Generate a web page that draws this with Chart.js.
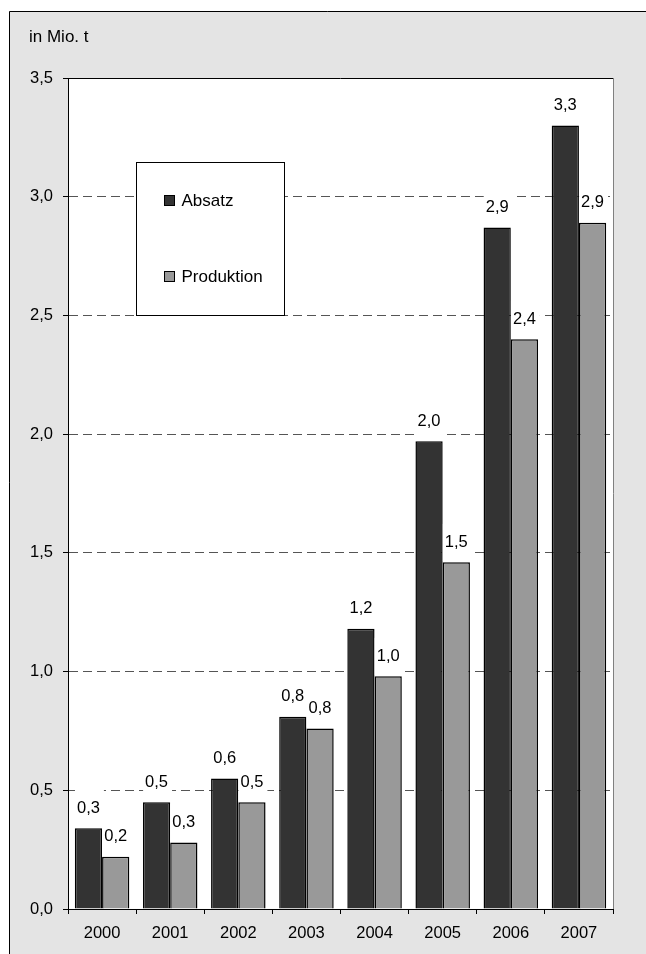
<!DOCTYPE html>
<html>
<head>
<meta charset="utf-8">
<title>Absatz und Produktion 2000–2007</title>
<style>
  html, body { margin: 0; padding: 0; background: #ffffff; }
  #wrap { width: 646px; height: 954px; position: relative; }
  canvas { display: block; }
</style>
<script src="https://cdn.jsdelivr.net/npm/chart.js@4/dist/chart.umd.min.js"></script>
</head>
<body>
<div id="wrap"><canvas id="chart" width="646" height="954"></canvas></div>
<script>
// Jahre (Kategorien)
const years = ['2000', '2001', '2002', '2003', '2004', '2005', '2006', '2007'];
// Absatz in Mio. t
const absatz = [0.34, 0.45, 0.55, 0.81, 1.18, 1.97, 2.87, 3.30];
// Produktion in Mio. t
const produktion = [0.22, 0.28, 0.45, 0.76, 0.98, 1.46, 2.40, 2.89];
// Beschriftungen
const seriesNames = ['Absatz', 'Produktion'];
const yTicks = [0, 0.5, 1.0, 1.5, 2.0, 2.5, 3.0, 3.5];
const unitLabel = 'in Mio. t';

const FONT = '"Liberation Sans", Arial, Helvetica, sans-serif';
const DARK = '#333333';
const LIGHT = '#999999';

// deutsches Zahlenformat mit einer Nachkommastelle
const fmt = v => (Math.round(v * 10) / 10).toFixed(1).replace('.', ',');

// Hintergrund: grauer Rahmen, weiße Zeichenfläche, Einheit oben links
const framePlugin = {
  id: 'frame',
  beforeDraw(chart) {
    const { ctx, width, height, chartArea: ca } = chart;
    ctx.save();
    ctx.fillStyle = '#e4e4e4';
    ctx.fillRect(9, 11, width - 9, height - 11);
    ctx.strokeStyle = '#000';
    ctx.lineWidth = 1;
    ctx.beginPath();
    ctx.moveTo(9.5, height);
    ctx.lineTo(9.5, 11.5);
    ctx.lineTo(width, 11.5);
    ctx.stroke();
    ctx.fillStyle = '#ffffff';
    ctx.fillRect(ca.left, ca.top, ca.right - ca.left, ca.bottom - ca.top);
    ctx.fillStyle = '#000';
    ctx.font = '17px ' + FONT;
    ctx.textAlign = 'left';
    ctx.textBaseline = 'alphabetic';
    ctx.fillText(unitLabel, 29, 41.5);
    ctx.restore();
  },
  beforeDatasetsDraw(chart) {
    const { ctx, chartArea: ca } = chart;
    ctx.save();
    ctx.lineWidth = 1;
    ctx.strokeStyle = '#000';
    ctx.beginPath();
    ctx.moveTo(ca.left, Math.round(ca.top) + 0.5);
    ctx.lineTo(ca.right, Math.round(ca.top) + 0.5);
    ctx.stroke();
    ctx.strokeStyle = '#808080';
    ctx.beginPath();
    ctx.moveTo(Math.round(ca.right) + 0.5, ca.top);
    ctx.lineTo(Math.round(ca.right) + 0.5, ca.bottom);
    ctx.stroke();
    ctx.restore();
  }
};

// Wertebeschriftung über den Säulen mit weißem Hintergrund
const valueLabelPlugin = {
  id: 'valueLabels',
  afterDatasetsDraw(chart) {
    const { ctx } = chart;
    ctx.save();
    ctx.font = '16.5px ' + FONT;
    ctx.textAlign = 'center';
    ctx.textBaseline = 'alphabetic';
    chart.data.datasets.forEach((ds, di) => {
      const meta = chart.getDatasetMeta(di);
      meta.data.forEach((bar, i) => {
        const txt = fmt(ds.data[i]);
        const tw = ctx.measureText(txt).width;
        const bw = tw + 6;
        ctx.fillStyle = '#ffffff';
        ctx.fillRect(bar.x - bw / 2 + 1, bar.y - 38.5, bw, 37.5);
        ctx.fillStyle = '#000';
        ctx.fillText(txt, bar.x, bar.y - 15.5);
      });
    });
    ctx.restore();
  }
};

// Legende als Kasten innerhalb der Zeichenfläche
const legendBoxPlugin = {
  id: 'legendBox',
  afterDatasetsDraw(chart) {
    const { ctx } = chart;
    const xs = chart.scales.x, ys = chart.scales.y;
    const left = Math.round((xs.getPixelForValue(0) + xs.getPixelForValue(1)) / 2) + 0.5;
    const bottom = Math.round(ys.getPixelForValue(2.5)) + 0.5;
    const w = 148, h = 153;
    const top = bottom - h;
    ctx.save();
    ctx.fillStyle = '#ffffff';
    ctx.fillRect(left, top, w, h);
    ctx.strokeStyle = '#000';
    ctx.lineWidth = 1;
    ctx.strokeRect(left, top, w, h);
    ctx.font = '17px ' + FONT;
    ctx.textAlign = 'left';
    ctx.textBaseline = 'alphabetic';
    const rows = [top + 38, top + 114];
    chart.data.datasets.forEach((ds, di) => {
      const cy = rows[di];
      ctx.fillStyle = ds.backgroundColor;
      ctx.fillRect(left + 28, cy - 5, 10, 10);
      ctx.strokeStyle = '#000';
      ctx.strokeRect(left + 28, cy - 5, 10, 10);
      ctx.fillStyle = '#000';
      ctx.fillText(ds.label, left + 45, cy + 5.5);
    });
    ctx.restore();
  }
};

new Chart(document.getElementById('chart'), {
  type: 'bar',
  data: {
    labels: years,
    datasets: [
      { label: seriesNames[0], data: absatz, backgroundColor: DARK, borderColor: '#000', borderWidth: 1.5,
        categoryPercentage: 0.8, barPercentage: 1.0 },
      { label: seriesNames[1], data: produktion, backgroundColor: LIGHT, borderColor: '#000', borderWidth: 1.5,
        categoryPercentage: 0.8, barPercentage: 1.0 }
    ]
  },
  options: {
    responsive: false,
    animation: false,
    devicePixelRatio: 1,
    layout: { padding: { left: 0, top: 78, right: 33, bottom: 0 } },
    plugins: {
      legend: { display: false },
      tooltip: { enabled: false },
      title: { display: false }
    },
    scales: {
      x: {
        grid: { display: true, drawOnChartArea: false, drawTicks: true, tickLength: 5, tickColor: '#000', offset: true },
        border: { display: true, color: '#000', width: 1 },
        ticks: { color: '#000', font: { family: FONT, size: 16.5 }, padding: 10, maxRotation: 0 },
        afterFit: s => { s.height = 45; }
      },
      y: {
        min: 0,
        max: 3.5,
        afterBuildTicks: s => { s.ticks = yTicks.map(v => ({ value: v })); },
        grid: {
          color: c => (c.tick && c.tick.value > 0 && c.tick.value < 3.5) ? '#555555' : 'rgba(0,0,0,0)',
          lineWidth: 1, tickLength: 5, tickColor: '#000'
        },
        border: { display: true, color: '#000', width: 1, dash: [9, 5] },
        ticks: { color: '#000', font: { family: FONT, size: 16.5 }, padding: 10, callback: v => fmt(v) },
        afterFit: s => { s.width = 68; }
      }
    }
  },
  plugins: [framePlugin, valueLabelPlugin, legendBoxPlugin]
});
</script>
</body>
</html>
